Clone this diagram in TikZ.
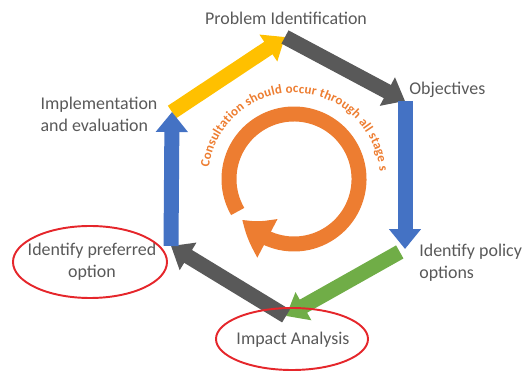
\documentclass[tikz,border=0pt]{standalone}
\usepackage{fontspec}
\setmainfont{Carlito}
\usetikzlibrary{arrows.meta,bending,decorations.text}
\definecolor{cyellow}{HTML}{FFC000}
\definecolor{cgray}{HTML}{595959}
\definecolor{cblue}{HTML}{4472C4}
\definecolor{cgreen}{HTML}{70AD47}
\definecolor{corange}{HTML}{ED7D31}
\definecolor{cred}{HTML}{E5262B}
\definecolor{ctext}{HTML}{595959}

\begin{document}
\begin{tikzpicture}[x=0.02cm,y=0.02cm,font=\fontsize{10.2}{12.5}\selectfont,
  blk/.style={line width=0.3cm,-{Triangle[length=0.4cm,width=0.62cm]}},
  lbl/.style={text=ctext,inner sep=0pt},
  oval/.style={draw=cred,line width=1.1pt}]
\useasboundingbox (0,0) rectangle (526,371);
\coordinate (top) at (285,334);
\coordinate (ur) at (405,270);
\coordinate (lr) at (405,122);
\coordinate (bot) at (286,55);
\coordinate (ll) at (171,125);
\coordinate (ul) at (172,259);
\coordinate (hub) at (294,192);
\draw[corange,line width=0.3cm,-{Triangle[length=0.64cm,width=0.82cm,bend]}]
  (hub) ++(210:65) arc[start angle=210,end angle=-142,radius=65];
\path[decorate,decoration={text along path,text color=corange,text align=fit to path,
  text={|\fontsize{7.4}{8}\selectfont\bfseries|Consultation should occur through all stage s}}]
  (hub) ++(172:86) arc[start angle=172,end angle=5,radius=86];
\draw[blk,cyellow] (ul)--(top);
\draw[blk,cgray] (top)--(ur);
\draw[blk,cblue] (ur)--(lr);
\draw[blk,cgreen,shorten <=0.12cm] (lr)--(bot);
\draw[blk,cgray] (bot)--(ll);
\draw[blk,cblue] (ll)--(ul);
\node[lbl] (probid) at (286,353) {Problem Identification};
\node[lbl,anchor=west] (objectives) at (409,281) {Objectives};
\node[lbl,align=left] (implement) at (99,257) {Implementation\\and evaluation};
\node[lbl,align=left,anchor=west] (policy) at (419,108) {Identify policy\\options};
\node[lbl,align=center] (preferred) at (92,109) {Identify preferred\\option};
\node[lbl] (impact) at (293,31) {Impact Analysis};
\draw[oval] (90,109) ellipse[x radius=77,y radius=36];
\draw[oval] (292,32) ellipse[x radius=76,y radius=31];
\end{tikzpicture}
\end{document}
